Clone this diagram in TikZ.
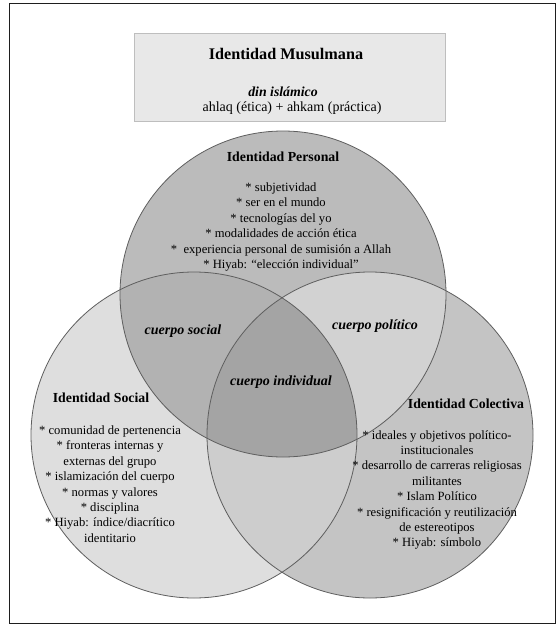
\documentclass[tikz,border=0pt]{standalone}
\usepackage{fontspec}
\setmainfont{Liberation Serif}
\usetikzlibrary{positioning}
\definecolor{framegray}{HTML}{1E1E1E}
\definecolor{boxfill}{HTML}{E8E8E8}
\definecolor{boxline}{HTML}{BEBEBE}
\definecolor{ringgray}{HTML}{5E5E5E}
\definecolor{persgray}{HTML}{BBBBBB}
\definecolor{socgray}{HTML}{DEDEDE}
\definecolor{colgray}{HTML}{C4C4C4}
\definecolor{persocgray}{HTML}{B2B2B2}
\definecolor{perscolgray}{HTML}{D2D2D2}
\definecolor{soccolgray}{HTML}{CDCDCD}
\definecolor{coregray}{HTML}{A4A4A4}
\tikzset{
  vennset/.style={
    circle,
    draw=ringgray,
    line width=0.8pt,
    minimum size=326pt,
    inner sep=0pt
  },
  vennhead/.style={font=\fontsize{13.8}{16}\selectfont\bfseries,inner sep=0pt},
  venntext/.style={
    align=center,
    inner sep=0pt,
    font=\fontsize{12.6}{15.4}\selectfont
  },
  lensname/.style={font=\fontsize{14}{16}\selectfont\bfseries\itshape,inner sep=0pt},
  headbox/.style={
    draw=boxline,
    fill=boxfill,
    line width=1pt,
    minimum width=311pt,
    minimum height=87pt,
    inner sep=0pt
  }
}
\begin{document}
\begin{tikzpicture}[x=1pt,y=-1pt]
  \useasboundingbox (0,0) rectangle (557,626);
  \draw[framegray,line width=1pt] (9,4) rectangle (555,623);

  \node[headbox] (musulmana) at (289.5,77.5) {};
  \node[font=\fontsize{16.2}{19}\selectfont\bfseries,inner sep=0pt] (title) at (286,54) {Identidad Musulmana};
  \node[lensname,font=\fontsize{13.8}{16}\selectfont\bfseries\itshape] (din) at (283,92) {din islámico};
  \node[venntext,font=\fontsize{14}{16}\selectfont] (ahlaq) at (292,108) {ahlaq (ética) + ahkam (práctica)};

  \coordinate (pc) at (283,294);
  \coordinate (sc) at (194,435);
  \coordinate (cc) at (370,435);

  \fill[socgray] (sc) circle[radius=163pt];
  \fill[colgray] (cc) circle[radius=163pt];
  \fill[persgray] (pc) circle[radius=163pt];
  \begin{scope}
    \clip (pc) circle[radius=163pt];
    \fill[persocgray] (sc) circle[radius=163pt];
    \fill[perscolgray] (cc) circle[radius=163pt];
  \end{scope}
  \begin{scope}
    \clip (sc) circle[radius=163pt];
    \fill[soccolgray] (cc) circle[radius=163pt];
  \end{scope}
  \begin{scope}
    \clip (pc) circle[radius=163pt];
    \clip (sc) circle[radius=163pt];
    \fill[coregray] (cc) circle[radius=163pt];
  \end{scope}

  \node[vennset] (personal) at (pc) {};
  \node[vennset] (social) at (sc) {};
  \node[vennset] (colectiva) at (cc) {};

  \node[vennhead] (personalhead) at (283,157) {Identidad Personal};
  \node[venntext] (personalitems) at (281,227) {
    * subjetividad\\* ser en el mundo\\* tecnologías del yo\\
    * modalidades de acción ética\\*\ \ experiencia personal de sumisión a Allah\\
    * Hiyab: “elección individual”};

  \node[vennhead] (socialhead) at (101,398) {Identidad Social};
  \node[venntext] (socialitems) at (110,484) {
    * comunidad de pertenencia\\* fronteras internas y\\externas del grupo\\
    * islamización del cuerpo\\* normas y valores\\* disciplina\\
    * Hiyab: índice/diacrítico\\identitario};

  \node[vennhead] (colectivahead) at (466,404) {Identidad Colectiva};
  \node[venntext] (colectivaitems) at (437,490) {
    * ideales y objetivos político-\\institucionales\\
    * desarrollo de carreras religiosas\\militantes\\* Islam Político\\
    * resignificación y reutilización\\de estereotipos\\* Hiyab: símbolo};

  \node[lensname] (cuerposocial) at (183,331) {cuerpo social};
  \node[lensname] (cuerpopolitico) at (375,326) {cuerpo político};
  \node[lensname] (cuerpoindividual) at (281,382) {cuerpo individual};
\end{tikzpicture}
\end{document}
